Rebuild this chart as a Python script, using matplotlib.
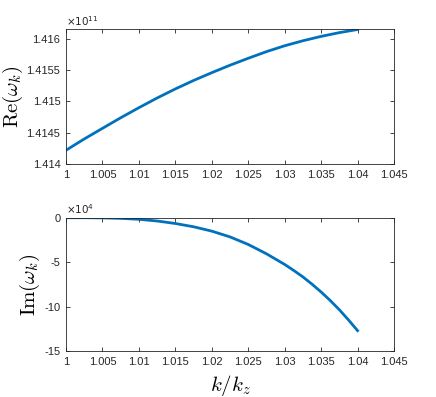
import matplotlib
matplotlib.use("Agg")
import numpy as np
import matplotlib.pyplot as plt
from matplotlib.ticker import FuncFormatter

# data
k_ratio = [1.0, 1.0025, 1.005, 1.0075, 1.01, 1.0125, 1.015, 1.0175, 1.02,
           1.0225, 1.025, 1.0275, 1.03, 1.0325, 1.035, 1.0375, 1.04]
# Re(omega_k) in units of 1e11
re_omega = [1.41422, 1.41440, 1.41457, 1.414739, 1.41490, 1.415055, 1.41520,
            1.415335, 1.41546, 1.415579, 1.41569, 1.415796, 1.41589, 1.41597,
            1.41604, 1.41610, 1.41615]

# Im(omega_k) in units of 1e4, read a bit denser where the curve bends
k_im = [1.0, 1.0025, 1.005, 1.0075, 1.01, 1.0125, 1.015, 1.0175, 1.02,
        1.0225, 1.025, 1.0275, 1.03, 1.03125, 1.0325, 1.03375, 1.035,
        1.03625, 1.0375, 1.03875, 1.04]
im_omega = [0.0, 0.0, -0.02, -0.07, -0.18, -0.37, -0.65, -1.02, -1.51,
            -2.16, -3.01, -4.06, -5.26, -5.94, -6.66, -7.48, -8.36,
            -9.32, -10.36, -11.5, -12.71]

x_ticks = [1, 1.005, 1.01, 1.015, 1.02, 1.025, 1.03, 1.035, 1.04, 1.045]
re_ticks = [1.414, 1.4145, 1.415, 1.4155, 1.416]
im_ticks = [-15, -10, -5, 0]

plt.rcParams['font.family'] = ['Liberation Sans', 'DejaVu Sans']
plt.rcParams['mathtext.fontset'] = 'cm'

gray = '#262626'
blue = '#0072BD'
fmt = FuncFormatter(lambda v, p: '%g' % v)

fig = plt.figure(figsize=(4.36, 3.97), dpi=100)
ax1 = fig.add_axes([0.1514, 0.5869, 0.7523, 0.3388])
ax2 = fig.add_axes([0.1514, 0.1159, 0.7523, 0.3357])

ax1.plot(k_ratio, re_omega, color=blue, lw=2, solid_joinstyle='round')
ax1.set_ylim(1.414, 1.41615)
ax1.set_yticks(re_ticks)
ax1.set_ylabel(r'$\mathrm{Re}(\omega_k)$', fontsize=15)
ax1.yaxis.set_label_coords(-0.125, 0.5)
ax1.text(0, 1.01, r'$\times10^{11}$', transform=ax1.transAxes,
         fontsize=7.5, color=gray, ha='left', va='bottom',
         math_fontfamily='dejavusans')

ax2.plot(k_im, im_omega, color=blue, lw=2, solid_joinstyle='round')
ax2.set_ylim(-15, 0)
ax2.set_yticks(im_ticks)
ax2.set_ylabel(r'$\mathrm{Im}(\omega_k)$', fontsize=15)
ax2.yaxis.set_label_coords(-0.073, 0.5)
ax2.set_xlabel(r'$k/k_z$', fontsize=15)
ax2.xaxis.set_label_coords(0.5, -0.165)
ax2.text(0, 1.01, r'$\times10^{4}$', transform=ax2.transAxes,
         fontsize=7.5, color=gray, ha='left', va='bottom',
         math_fontfamily='dejavusans')

for ax in (ax1, ax2):
    ax.set_xlim(1, 1.045)
    ax.set_xticks(x_ticks)
    ax.xaxis.set_major_formatter(fmt)
    ax.yaxis.set_major_formatter(fmt)
    ax.tick_params(direction='in', top=True, right=True, length=3,
                   width=0.6, labelsize=8, colors=gray, pad=4)
    for s in ax.spines.values():
        s.set_color(gray)
        s.set_linewidth(0.6)

fig.savefig('out.png', dpi=100)
